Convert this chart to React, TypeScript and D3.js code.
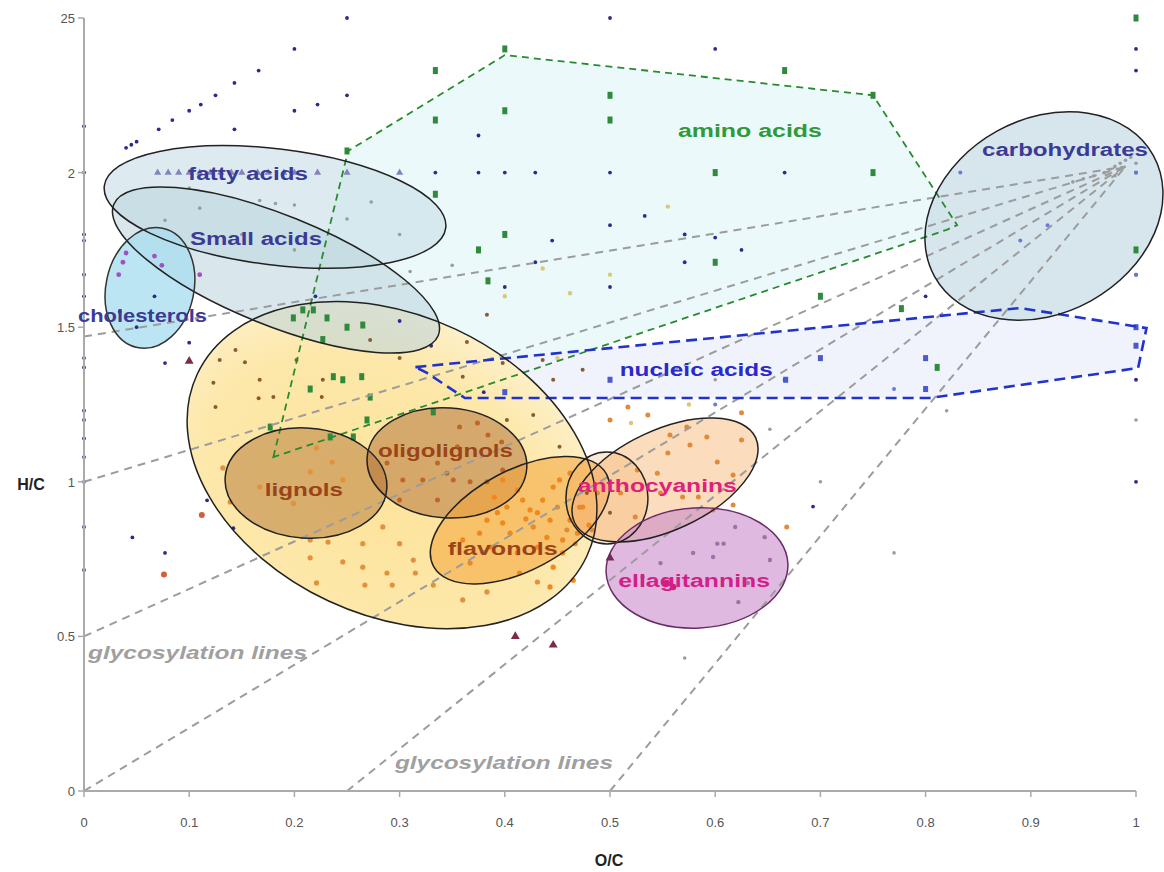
import React from "react";
import * as d3 from "d3";

const W = 1164;
const H = 872;

// ---------- axis ticks ----------
const xTicks = [0, 0.1, 0.2, 0.3, 0.4, 0.5, 0.6, 0.7, 0.8, 0.9, 1];
const xTickLabels = ["0", "0.1", "0.2", "0.3", "0.4", "0.5", "0.6", "0.7", "0.8", "0.9", "1"];
const yTicks = [0, 0.5, 1, 1.5, 2, 2.5];
const yTickLabels = ["0", "0.5", "1", "1.5", "2", "25"];

// ---------- scatter series [O/C, H/C] ----------
const blueDots: [number, number][] = [
  [0.25, 2.5], [0.2, 2.4], [0.166, 2.33], [0.143, 2.29], [0.125, 2.25], [0.111, 2.22], [0.1, 2.2],
  [0.084, 2.17], [0.071, 2.14], [0.2, 2.2], [0.222, 2.22], [0.25, 2.25], [0.143, 2.14],
  [0.04, 2.08], [0.045, 2.09], [0.05, 2.1], [0.5, 2.5], [0.6, 2.4], [0.375, 2.12], [0.334, 2.0],
  [0.375, 2.0], [0.4, 2.0], [0.429, 2.0], [0.5, 2.0], [0.533, 1.86], [0.5, 1.83], [0.445, 1.78],
  [0.571, 1.8], [0.6, 1.79], [0.429, 1.71], [0.571, 1.71], [0.625, 1.75], [0.4, 1.63], [0.5, 1.63],
  [0.666, 2.0], [1, 2.4], [1, 2.33], [1, 2.0], [1, 1.67], [0.8, 1.6], [0.666, 1.33], [0.693, 0.92],
  [1, 1.5], [1, 1.44], [1, 1.33], [1, 1.0],
  [0, 2.15], [0, 2.0], [0, 1.8], [0, 1.78], [0, 1.67], [0, 1.6], [0, 1.4], [0, 1.37], [0, 1.23],
  [0, 1.2], [0, 1.14], [0, 1.08], [0, 1.0], [0, 0.854], [0, 0.715],
  [0.077, 1.384], [0.046, 0.82], [0.077, 0.77], [0.117, 0.94], [0.142, 0.85], [0.067, 1.6],
  [0.034, 1.55], [0.05, 1.5], [0.1, 1.45], [0.38, 1.29], [0.33, 1.44], [0.3, 1.52], [0.22, 1.6],
];
const blueSquares: [number, number][] = [
  [0.7, 1.4], [0.8, 1.4], [0.8, 1.3], [1, 1.5], [1, 1.44], [0.5, 1.33], [0.4, 1.29], [0.667, 1.33],
];
const lightBlue: [number, number][] = [
  [0.833, 2.0], [0.89, 1.78], [0.916, 1.83], [1, 2.0], [1, 1.67], [0.77, 1.3], [0.6, 1.25],
];
const greenSquares: [number, number][] = [
  [0.25, 2.07], [0.4, 2.4], [0.334, 2.33], [0.5, 2.25], [0.4, 2.2], [0.334, 2.17], [0.5, 2.17],
  [0.6, 2.0], [0.334, 1.93], [0.4, 1.8], [0.375, 1.75], [0.384, 1.65], [0.6, 1.71], [0.666, 2.33],
  [0.75, 2.25], [0.75, 2.0], [1, 2.5], [1, 1.75], [0.7, 1.6], [0.777, 1.56], [0.811, 1.37],
  [0.199, 1.53], [0.208, 1.556], [0.218, 1.556], [0.231, 1.53], [0.25, 1.5], [0.265, 1.507],
  [0.227, 1.46], [0.237, 1.34], [0.246, 1.33], [0.264, 1.34], [0.215, 1.3], [0.272, 1.274],
  [0.269, 1.2], [0.256, 1.145], [0.234, 1.145], [0.332, 1.226], [0.177, 1.177],
];
const fattyTriangles: [number, number][] = [
  [0.07, 2.0], [0.08, 2.0], [0.09, 2.0], [0.1, 2.0], [0.11, 2.0], [0.12, 2.0], [0.13, 2.0],
  [0.14, 2.0], [0.15, 2.0], [0.165, 2.0], [0.175, 2.0], [0.19, 2.0], [0.2, 2.0], [0.222, 2.0],
  [0.25, 2.0], [0.3, 2.0],
];
const grayPoints: [number, number][] = [
  [0.167, 1.91], [0.182, 1.9], [0.2, 1.895], [0.11, 1.885], [0.273, 1.905], [0.077, 1.846],
  [0.1, 1.95], [0.25, 1.85], [0.3, 1.8], [0.35, 1.7], [0.2, 1.75], [0.15, 1.8], [0.31, 1.68],
  [0.571, 0.43], [0.82, 1.23], [0.7, 1.0], [0.652, 1.17], [0.77, 0.77], [0.6, 1.33], [1, 1.2],
  [0.97, 2.0], [0.98, 2.02], [0.985, 2.03], [0.99, 2.04], [0.995, 2.05], [0.975, 2.01],
  [0.96, 1.99], [0.98, 1.99], [1.0, 2.03], [0.94, 1.97], [0.95, 1.98],
];
const cholPoints: [number, number][] = [
  [0.037, 1.71], [0.074, 1.7], [0.067, 1.73], [0.033, 1.67], [0.11, 1.67], [0.04, 1.74],
];
const yellowDots: [number, number][] = [
  [0.555, 1.89], [0.436, 1.69], [0.5, 1.67], [0.462, 1.61], [0.4, 1.6], [0.575, 1.25],
  [0.52, 1.19], [0.45, 1.4],
];
const brownDots: [number, number][] = [
  [0.144, 1.426], [0.129, 1.394], [0.123, 1.32], [0.125, 1.242], [0.167, 1.33], [0.166, 1.27],
  [0.153, 1.387], [0.18, 1.274], [0.202, 1.394], [0.227, 1.33], [0.226, 1.274], [0.272, 1.459],
  [0.3, 1.4], [0.364, 1.452], [0.383, 1.54], [0.36, 1.34], [0.398, 1.384], [0.436, 1.394],
  [0.446, 1.33], [0.474, 1.362], [0.402, 1.2], [0.427, 1.216], [0.452, 1.113], [0.478, 0.964],
  [0.5, 0.9],
];
const orangeDots: [number, number][] = [
  [0.236, 1.064], [0.221, 1.109], [0.215, 1.032], [0.199, 0.93], [0.265, 0.8], [0.284, 0.854],
  [0.3, 0.8], [0.313, 0.747], [0.293, 0.666], [0.267, 0.666], [0.221, 0.673], [0.215, 0.754],
  [0.139, 0.935], [0.132, 1.045], [0.167, 0.983], [0.246, 1.006],
  [0.215, 0.812], [0.232, 0.805], [0.246, 0.741], [0.265, 0.724], [0.288, 0.705], [0.315, 0.705],
  [0.332, 0.666], [0.36, 0.618], [0.383, 0.644], [0.431, 0.676],
];
const redDots: [number, number][] = [[0.112, 0.893], [0.076, 0.7]];
const oligoDots: [number, number][] = [
  [0.357, 1.177], [0.374, 1.19], [0.384, 1.151], [0.397, 1.129], [0.355, 1.113], [0.336, 1.061],
  [0.322, 1.006], [0.351, 1.006], [0.367, 1.0], [0.383, 1.0], [0.303, 1.006], [0.3, 0.941],
  [0.336, 0.941], [0.345, 1.028], [0.398, 1.038], [0.288, 1.061],
];
const flavonolDots: [number, number][] = [
  [0.398, 1.006], [0.412, 0.973], [0.417, 0.941], [0.424, 0.909], [0.431, 0.9], [0.436, 0.941],
  [0.446, 0.983], [0.452, 1.006], [0.462, 1.028], [0.45, 0.918], [0.443, 0.876], [0.462, 0.876],
  [0.469, 0.834], [0.455, 0.812], [0.393, 0.9], [0.383, 0.876], [0.398, 0.867], [0.405, 0.834],
  [0.376, 0.834], [0.386, 0.789], [0.412, 0.77], [0.431, 0.789], [0.455, 0.77], [0.414, 0.705],
  [0.446, 0.724], [0.465, 0.682], [0.443, 0.66], [0.367, 0.737], [0.36, 0.812], [0.402, 0.918],
  [0.427, 0.854], [0.474, 0.918], [0.42, 0.88], [0.44, 0.82], [0.39, 0.95], [0.48, 0.86],
];
const anthoDots: [number, number][] = [
  [0.5, 1.2], [0.517, 1.242], [0.536, 1.216], [0.557, 1.151], [0.573, 1.177], [0.592, 1.145],
  [0.625, 1.223], [0.576, 1.119], [0.555, 1.093], [0.545, 1.028], [0.602, 1.064], [0.617, 1.022],
  [0.625, 1.135], [0.584, 0.951], [0.569, 0.951], [0.548, 0.964], [0.526, 1.038], [0.51, 0.964],
  [0.471, 0.918], [0.488, 0.964], [0.467, 0.8], [0.459, 0.844], [0.483, 0.844], [0.524, 0.886],
  [0.598, 0.909], [0.617, 0.925], [0.668, 0.854],
];
const ellagDots: [number, number][] = [
  [0.619, 0.854], [0.602, 0.8], [0.608, 0.8], [0.579, 0.77], [0.598, 0.757], [0.548, 0.737],
  [0.647, 0.821], [0.652, 0.747], [0.631, 0.673], [0.622, 0.611], [0.531, 0.692],
];
const magentaDots: [number, number][] = [[0.554, 0.673], [0.56, 0.66]];
const maroonTriangles: [number, number][] = [[0.41, 0.5], [0.446, 0.472], [0.5, 0.754], [0.1, 1.39]];

// ---------- glycosylation lines: start points, all meeting at the carbohydrate point ----------
const glycoStarts: [number, number][] = [[0, 1.47], [0, 1], [0, 0.5], [0, 0], [0.25, 0], [0.5, 0]];
const glycoEnd: [number, number] = [0.99, 2.02];

// ---------- class regions ----------
const aminoPolygon: [number, number][] = [
  [0.18, 1.08], [0.251, 2.07], [0.4, 2.38], [0.75, 2.25], [0.83, 1.83], [0.82, 1.815],
];
const nucleicPolygon: [number, number][] = [
  [0.315, 1.371], [0.89, 1.562], [1.01, 1.497], [1.002, 1.368], [0.804, 1.271], [0.362, 1.271],
  [0.326, 1.352],
];

type Region = { name: string; cx: number; cy: number };
const ellipseCenters: Region[] = [
  { name: "big", cx: 0.2928, cy: 1.054 },
  { name: "fatty", cx: 0.1816, cy: 1.889 },
  { name: "small", cx: 0.1825, cy: 1.685 },
  { name: "chol", cx: 0.0627, cy: 1.627 },
  { name: "carb", cx: 0.9125, cy: 1.8596 },
  { name: "lignols", cx: 0.211, cy: 0.996 },
  { name: "oligo", cx: 0.345, cy: 1.061 },
  { name: "flav", cx: 0.4144, cy: 0.876 },
  { name: "antho", cx: 0.5523, cy: 1.006 },
  { name: "anthoSmall", cx: 0.4971, cy: 0.9476 },
  { name: "ellag", cx: 0.5827, cy: 0.7212 },
];

const labelNames = [
  "fatty acids", "Small acids", "cholesterols", "amino acids", "carbohydrates", "nucleic acids",
  "lignols", "oligolignols", "flavonols", "anthocyanins", "ellagitannins",
  "glycosylation lines", "glycosylation lines",
];
const labelAnchors: [number, number][] = [
  [0.156, 2.0], [0.1635, 1.788], [0.0556, 1.539], [0.633, 2.137], [0.9325, 2.076], [0.582, 1.364],
  [0.209, 0.977], [0.3436, 1.103], [0.398, 0.785], [0.545, 0.99], [0.58, 0.682],
  [0.1079, 0.4495], [0.3992, 0.0938],
];

// ---------- styles (not data) ----------
const ellStyle: Record<string, any> = {
  big: { a: 215, b: 150, rot: 25, fill: "url(#bigGrad)", op: 1, stroke: "#222" },
  fatty: { a: 172, b: 58, rot: 7, fill: "#c6dde6", op: 0.6, stroke: "#222" },
  small: { a: 175, b: 55, rot: 22, fill: "#b9d3dc", op: 0.55, stroke: "#222" },
  chol: { a: 44, b: 61, rot: 12, fill: "#a6dcef", op: 0.75, stroke: "#333" },
  carb: { a: 125, b: 97, rot: -29, fill: "#cfe2e9", op: 0.85, stroke: "#222" },
  lignols: { a: 81, b: 55, rot: 4, fill: "#b47535", op: 0.5, stroke: "#222" },
  oligo: { a: 80, b: 55, rot: 4, fill: "#ad6c33", op: 0.5, stroke: "#222" },
  flav: { a: 98, b: 50, rot: -28, fill: "#f4a43a", op: 0.55, stroke: "#222" },
  antho: { a: 100, b: 50, rot: -25, fill: "#f7bf85", op: 0.55, stroke: "#222" },
  anthoSmall: { a: 41, b: 46, rot: 0, fill: "#f2a550", op: 0.25, stroke: "#222" },
  ellag: { a: 91, b: 60, rot: -3, fill: "#c98bc9", op: 0.6, stroke: "#6a2a6a" },
};
const labelStyle = [
  { color: "#3b3b96", len: 120 }, { color: "#3b3b96", len: 132 }, { color: "#3b3b96", len: 129 },
  { color: "#2e9a3a", len: 144 }, { color: "#3b3b96", len: 166 }, { color: "#2a2acc", len: 153 },
  { color: "#9a4418", len: 78 }, { color: "#9a4418", len: 135 }, { color: "#9a4418", len: 110 },
  { color: "#e0207a", len: 159 }, { color: "#d41f8a", len: 152 },
  { color: "#a0a0a0", len: 219, italic: true }, { color: "#a0a0a0", len: 218, italic: true },
];

export default function App() {
  const x = d3.scaleLinear().domain([0, 1]).range([84, 1136]);
  const y = d3.scaleLinear().domain([0, 2.5]).range([791, 18]);
  const poly = (pts: [number, number][]) =>
    (d3.line<[number, number]>().x((d) => x(d[0])).y((d) => y(d[1])).curve(d3.curveLinearClosed))(pts) || "";
  const tri = d3.symbol().type(d3.symbolTriangle).size(22)() || "";
  const triBig = d3.symbol().type(d3.symbolTriangle).size(34)() || "";

  const ellipse = (r: Region) => {
    const s = ellStyle[r.name];
    const cx = x(r.cx), cy = y(r.cy);
    return (
      <ellipse key={r.name} cx={cx} cy={cy} rx={s.a} ry={s.b}
        transform={`rotate(${s.rot} ${cx} ${cy})`} fill={s.fill} fillOpacity={s.op} />
    );
  };
  const ellipseStroke = (r: Region) => {
    const s = ellStyle[r.name];
    const cx = x(r.cx), cy = y(r.cy);
    return (
      <ellipse key={r.name + "s"} cx={cx} cy={cy} rx={s.a} ry={s.b}
        transform={`rotate(${s.rot} ${cx} ${cy})`} fill="none" stroke={s.stroke} strokeWidth={1.5} />
    );
  };
  const dots = (pts: [number, number][], r: number, fill: string, op = 1) =>
    pts.map((p, i) => <circle key={fill + i} cx={x(p[0])} cy={y(p[1])} r={r} fill={fill} fillOpacity={op} />);
  const squares = (pts: [number, number][], w: number, h: number, fill: string) =>
    pts.map((p, i) => <rect key={fill + "sq" + i} x={x(p[0]) - w / 2} y={y(p[1]) - h / 2} width={w} height={h} fill={fill} />);

  return (
    <svg width={W} height={H} style={{ position: "absolute", left: 0, top: 0, background: "#fff" }}
      fontFamily="'Liberation Sans', Arial, sans-serif">
      <defs>
        <radialGradient id="bigGrad" cx="50%" cy="60%" r="60%">
          <stop offset="0%" stopColor="#fde49c" />
          <stop offset="70%" stopColor="#fde8aa" />
          <stop offset="100%" stopColor="#fdf0c8" />
        </radialGradient>
      </defs>

      {/* region fills */}
      <path d={poly(aminoPolygon)} fill="#eaf8fa" fillOpacity={0.9} />
      <path d={poly(nucleicPolygon)} fill="#eff2fc" fillOpacity={0.9} />

      {ellipseCenters.map(ellipse)}

      {/* points */}
      {dots(grayPoints, 1.8, "#9a9aa8")}
      {dots(yellowDots, 2.2, "#d9c878")}
      {dots(blueDots, 1.9, "#2b2b8c")}
      {squares(blueSquares, 5, 6, "#4a5acc")}
      {dots(lightBlue, 2, "#6a7ad8")}
      {fattyTriangles.map((p, i) => (
        <path key={"ft" + i} d={tri} transform={`translate(${x(p[0])},${y(p[1])})`} fill="#8484bb" />
      ))}
      {dots(cholPoints, 2.4, "#a050c0")}
      {squares(greenSquares, 5, 7, "#2f8a3c")}
      {dots(brownDots, 2, "#8a5a30")}
      {dots(orangeDots, 2.6, "#e2923a")}
      {dots(redDots, 3, "#d0603a")}
      {dots(oligoDots, 2.5, "#c0662a")}
      {dots(flavonolDots, 2.6, "#f0881e")}
      {dots(anthoDots, 2.5, "#e08a3a")}
      {dots(ellagDots, 2.2, "#a070a8")}
      {dots(magentaDots, 3.2, "#d0207a")}
      {maroonTriangles.map((p, i) => (
        <path key={"mt" + i} d={triBig} transform={`translate(${x(p[0])},${y(p[1])})`} fill="#7a2a4a" />
      ))}

      {/* glycosylation lines */}
      {glycoStarts.map((s, i) => (
        <line key={"g" + i} x1={x(s[0])} y1={y(s[1])} x2={x(glycoEnd[0])} y2={y(glycoEnd[1])}
          stroke="#9c9c9c" strokeWidth={2} strokeDasharray="8,6" />
      ))}

      {/* region outlines */}
      <path d={poly(aminoPolygon)} fill="none" stroke="#2a8a30" strokeWidth={1.8} strokeDasharray="7,5" />
      <path d={poly(nucleicPolygon)} fill="none" stroke="#2233cc" strokeWidth={2.6} strokeDasharray="11,6" />
      {ellipseCenters.map(ellipseStroke)}

      {/* axes */}
      <line x1={x(0)} y1={y(0)} x2={x(1)} y2={y(0)} stroke="#aaa" strokeWidth={2} />
      <line x1={x(0)} y1={y(0)} x2={x(0)} y2={y(2.5)} stroke="#aaa" strokeWidth={2} />
      {xTicks.map((t, i) => (
        <g key={"xt" + i}>
          <line x1={x(t)} x2={x(t)} y1={y(0)} y2={y(0) + 6} stroke="#aaa" strokeWidth={1.5} />
          <text x={x(t)} y={y(0) + 36} textAnchor="middle" fontSize={13} fill="#555">{xTickLabels[i]}</text>
        </g>
      ))}
      {yTicks.map((t, i) => (
        <g key={"yt" + i}>
          <line x1={x(0) - 6} x2={x(0)} y1={y(t)} y2={y(t)} stroke="#aaa" strokeWidth={1.5} />
          <text x={x(0) - 9} y={y(t) + 5} textAnchor="end" fontSize={13} fill="#555">{yTickLabels[i]}</text>
        </g>
      ))}
      <text x={31} y={490} textAnchor="middle" fontSize={16} fontWeight="bold" fill="#222">H/C</text>
      <text x={609} y={866} textAnchor="middle" fontSize={16} fontWeight="bold" fill="#222">O/C</text>

      {/* labels */}
      {labelNames.map((n, i) => {
        const st = labelStyle[i];
        return (
          <text key={"l" + i} x={x(labelAnchors[i][0])} y={y(labelAnchors[i][1]) + 7} textAnchor="middle"
            fontSize={st.italic ? 19 : 18} fontWeight="bold" fontStyle={st.italic ? "italic" : "normal"}
            fill={st.color} textLength={st.len} lengthAdjust="spacingAndGlyphs">{n}</text>
        );
      })}
    </svg>
  );
}
